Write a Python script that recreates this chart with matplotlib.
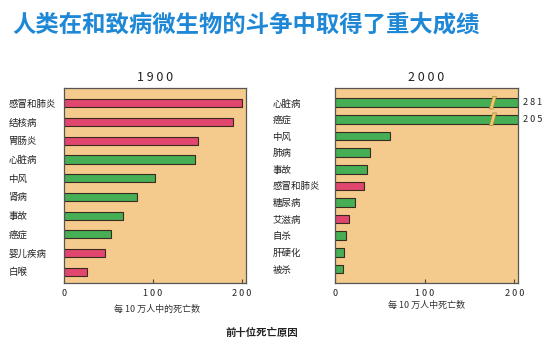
import matplotlib
matplotlib.use("Agg")
import matplotlib.pyplot as plt
from matplotlib.patches import Polygon

plt.rcParams['font.family'] = ['Noto Sans CJK SC', 'DejaVu Sans']

title = "人类在和致病微生物的斗争中取得了重大成绩"
caption = "前十位死亡原因"

cats_1900 = ["感冒和肺炎", "结核病", "胃肠炎", "心脏病", "中风", "肾病", "事故", "癌症", "婴儿疾病", "白喉"]
vals_1900 = [200, 190, 151, 148, 102, 82, 66, 53, 46, 26]
infect_1900 = [True, True, True, False, False, False, False, False, True, True]

cats_2000 = ["心脏病", "癌症", "中风", "肺病", "事故", "感冒和肺炎", "糖尿病", "艾滋病", "自杀", "肝硬化", "被杀"]
vals_2000 = [281, 205, 61, 39, 36, 32, 22, 16, 12, 10, 9]
infect_2000 = [False, False, False, False, False, True, False, True, False, False, False]

xticks = [0, 100, 200]

BG = '#F5CA8D'
RED = '#E0466E'
GREEN = '#46AE55'
EDGE = '#3a2a20'

fig = plt.figure(figsize=(5.43, 3.51), dpi=100)
fig.patch.set_facecolor('white')

fig.text(0.022, 0.929, title, fontsize=16.8, fontweight='bold', color='#1E88D6',
         ha='left', va='center')


def panel(rect, cats, vals, infect, xmax, ylim, year, xlabel, xlabel_pos, barh, pad):
    ax = fig.add_axes(rect)
    ax.set_facecolor(BG)
    y = list(range(len(cats)))
    shown = [min(v, xmax) for v in vals]
    colors = [RED if f else GREEN for f in infect]
    ax.barh(y, shown, height=barh, color=colors, edgecolor=EDGE, linewidth=0.8, zorder=2)
    ax.set_xlim(0, xmax)
    ax.set_ylim(*ylim)
    ax.set_yticks(y)
    ax.set_yticklabels(cats, fontsize=6.8, color='#222222', ha='left')
    ax.tick_params(axis='y', length=0, pad=pad)
    ax.set_xticks(xticks)
    ax.set_xticklabels([" ".join(str(t)) for t in xticks], fontsize=6.5, color='#222222')
    ax.tick_params(axis='x', direction='in', length=3, width=0.8, pad=4, color='#444444')
    for s in ax.spines.values():
        s.set_color('#555555')
        s.set_linewidth(0.9)
    ax.set_title(" ".join(year), fontsize=9, pad=5, color='#222222')
    # broken bars
    for yi, v in zip(y, vals):
        if v > xmax:
            xb = 176
            h = barh / 2 + 0.12
            poly = Polygon([(xb - 4, yi + h), (xb + 0, yi + h), (xb + 4, yi - h), (xb + 0, yi - h)],
                           closed=True, facecolor='#F2C96A', edgecolor='#9a8a40', linewidth=0.5, zorder=3)
            ax.add_patch(poly)
            ax.text(1.025, yi, " ".join(str(v)), transform=ax.get_yaxis_transform(),
                    fontsize=6.5, va='center', ha='left', color='#222222')
    fig.text(xlabel_pos[0], xlabel_pos[1], xlabel, fontsize=6.5, ha='center', va='center', color='#333333')
    return ax


panel([64 / 543, 1 - 283 / 351, 182 / 543, 195 / 351], cats_1900, vals_1900, infect_1900,
      205, (9.6, -0.82), "1900", "每 10 万人中的死亡数", (157 / 543, 1 - 309 / 351), 0.44, 40)
panel([335 / 543, 1 - 283 / 351, 183 / 543, 195 / 351], cats_2000, vals_2000, infect_2000,
      204, (10.84, -0.88), "2000", "每 10 万人中死亡数", (427 / 543, 1 - 305 / 351), 0.52, 45)

fig.text(262 / 543, 1 - 333 / 351, caption, fontsize=7.5, fontweight='bold', ha='center', va='center',
         color='#222222')

fig.savefig('out.png', dpi=100, facecolor='white')
